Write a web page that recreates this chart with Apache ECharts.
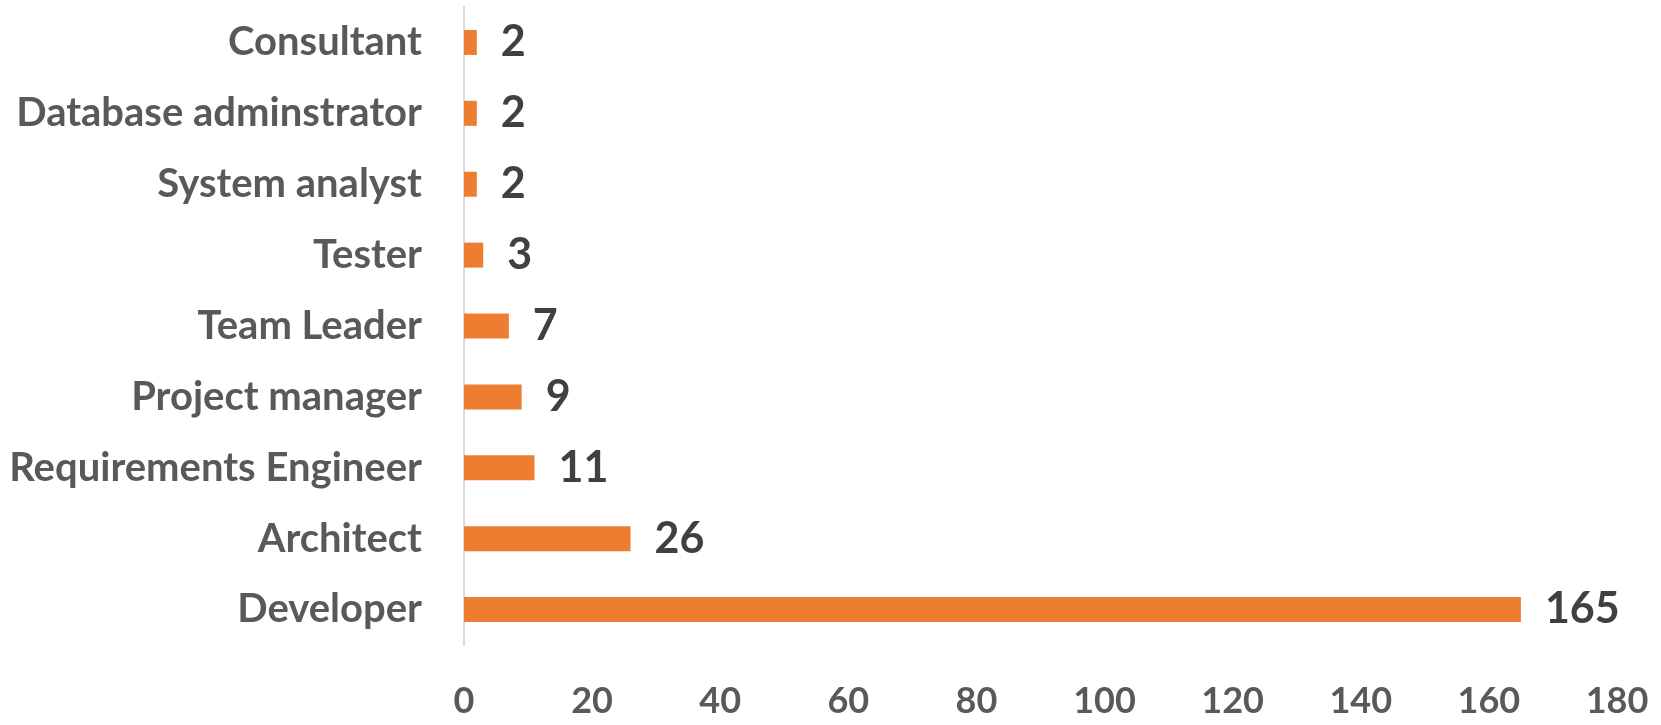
<!DOCTYPE html>
<html><head><meta charset="utf-8">
<script src="https://cdn.jsdelivr.net/npm/echarts@6/dist/echarts.min.js"></script>
<style>html,body{margin:0;padding:0;background:#fff}#c{width:1661px;height:725px}</style>
</head><body><div id="c"></div>
<script>
const categories = ["Developer","Architect","Requirements Engineer","Project manager","Team Leader","Tester","System analyst","Database adminstrator","Consultant"];
const values = [165, 26, 11, 9, 7, 3, 2, 2, 2];
const xTicks = [0, 20, 40, 60, 80, 100, 120, 140, 160, 180];

const FONT = 'Lato';
const chart = echarts.init(document.getElementById('c'), null, {renderer:'canvas'});
chart.setOption({
  animation: false,
  grid: {left: 464, right: 44, top: 7, bottom: 80, containLabel: false},
  xAxis: {
    type: 'value', min: xTicks[0], max: xTicks[xTicks.length-1], interval: 20,
    axisLine: {show: false}, axisTick: {show: false}, splitLine: {show: false},
    axisLabel: {color: '#595959', fontFamily: FONT, fontWeight: 'bold', fontSize: 36, margin: 38}
  },
  yAxis: {
    type: 'category', data: categories,
    axisLine: {show: true, lineStyle: {color: '#D9D9D9', width: 2}},
    axisTick: {show: false},
    axisLabel: {color: '#595959', fontFamily: FONT, fontWeight: 'bold', fontSize: 40, margin: 42}
  },
  series: [{
    type: 'bar', data: values, barWidth: 25,
    itemStyle: {color: '#ED7D31'},
    label: {show: true, position: 'right', distance: 24, color: '#404040', fontFamily: FONT, fontWeight: 'bold', fontSize: 43}
  }]
});
</script></body></html>
